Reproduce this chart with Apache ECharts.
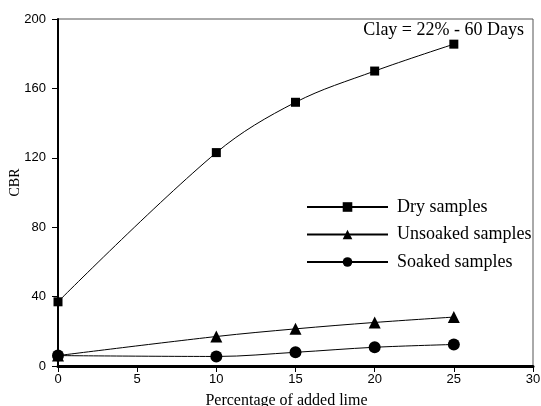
<!DOCTYPE html>
<html><head><meta charset="utf-8">
<script src="https://cdn.jsdelivr.net/npm/echarts@6/dist/echarts.min.js"></script>
<style>html,body{margin:0;padding:0;background:#fff}#c{width:541px;height:406px}</style>
</head><body><div id="c"></div>
<script>
var xValues = [0, 10, 15, 20, 25];
var drySamples = [37, 123, 152, 170, 185.5];
var unsoakedSamples = [6, 17, 21.4, 25.1, 28.2];
var soakedSamples = [6, 5.5, 7.9, 10.8, 12.4];
var seriesNames = ['Dry samples', 'Unsoaked samples', 'Soaked samples'];
var annotation = 'Clay = 22% - 60 Days';
var xTitle = 'Percentage of added lime';
var yTitle = 'CBR';

function pairs(xs, ys) { return xs.map(function (x, i) { return [x, ys[i]]; }); }

var chart = echarts.init(document.getElementById('c'));
var serif = '"Liberation Serif", "Times New Roman", serif';
var sans = '"Liberation Sans", Arial, sans-serif';
chart.setOption({
  animation: false,
  backgroundColor: '#fff',
  title: {
    text: annotation, right: 12, top: 16,
    textStyle: { fontFamily: serif, fontSize: 18, fontWeight: 'normal', color: '#000' }
  },
  legend: {
    orient: 'vertical', left: 301, top: 193, itemWidth: 81, itemHeight: 12, itemGap: 9.5,
    textStyle: { fontFamily: serif, fontSize: 18, lineHeight: 18, color: '#000', padding: [0, 0, 0, 4] },
    data: seriesNames
  },
  grid: {
    left: 58, right: 8, top: 19, bottom: 40, containLabel: false, outerBoundsMode: 'none',
    show: true, borderColor: '#555', borderWidth: 1, backgroundColor: 'transparent'
  },
  xAxis: {
    type: 'value', min: 0, max: 30, interval: 5,
    name: xTitle, nameLocation: 'middle', nameGap: 27, nameMoveOverlap: false,
    nameTextStyle: { fontFamily: serif, fontSize: 16, color: '#000', padding: [0, 18, 0, 0] },
    axisLine: { onZero: false, lineStyle: { color: '#000', width: 3 } },
    axisTick: { length: 6, lineStyle: { color: '#000', width: 1 } },
    axisLabel: { fontFamily: sans, fontSize: 13, color: '#000', margin: 7 },
    splitLine: { show: false }
  },
  yAxis: {
    type: 'value', min: 0, max: 200, interval: 40,
    name: yTitle, nameLocation: 'middle', nameGap: 36, nameRotate: 90, nameMoveOverlap: false,
    nameTextStyle: { fontFamily: serif, fontSize: 14, color: '#000', padding: [0, 0, 0, 20] },
    axisLine: { show: true, onZero: false, lineStyle: { color: '#000', width: 2 } },
    axisTick: { show: true, length: 6, lineStyle: { color: '#000', width: 1 } },
    axisLabel: { fontFamily: sans, fontSize: 13, color: '#000', margin: 12 },
    splitLine: { show: false }
  },
  series: [
    { name: seriesNames[0], type: 'line', smooth: 0.35, data: pairs(xValues, drySamples),
      symbol: 'rect', symbolSize: 9, itemStyle: { color: '#000' }, lineStyle: { color: '#000', width: 1 } },
    { name: seriesNames[1], type: 'line', smooth: 0.35, data: pairs(xValues, unsoakedSamples),
      symbol: 'triangle', symbolSize: 12, itemStyle: { color: '#000' }, lineStyle: { color: '#000', width: 1 } },
    { name: seriesNames[2], type: 'line', smooth: 0.35, data: pairs(xValues, soakedSamples),
      symbol: 'circle', symbolSize: 12, itemStyle: { color: '#000' }, lineStyle: { color: '#000', width: 1 } }
  ]
});
</script></body></html>
